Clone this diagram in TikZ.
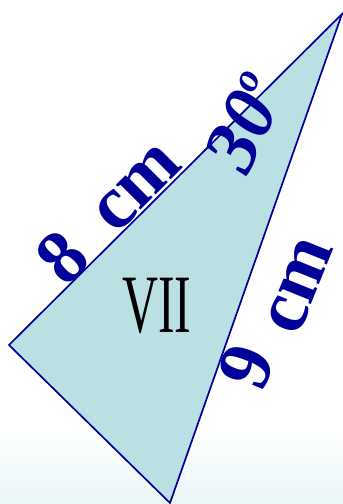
\documentclass[tikz,border=0pt]{standalone}
\usepackage{fontspec}
\setmainfont{Liberation Serif}
\definecolor{edgeblue}{HTML}{000099}
\definecolor{trifill}{HTML}{BBE0E3}
\definecolor{bgcyan}{HTML}{EAF6F7}
\tikzset{
  lbl/.style={text=edgeblue, font=\fontsize{76}{76}\selectfont\bfseries, inner sep=0pt},
  tri/.style={draw=edgeblue, fill=trifill, line width=1.7pt, line join=miter},
}
\begin{document}
\begin{tikzpicture}[x=1pt,y=-1pt]
\useasboundingbox (0,0) rectangle (343,504);
\fill[white] (0,0) rectangle (343,504);
\shade[top color=white, bottom color=bgcyan] (0,430) rectangle (343,504);
\coordinate (A) at (342,14);
\coordinate (B) at (9,345);
\coordinate (C) at (170,503);
\draw[tri] (A) -- (B) -- (C) -- cycle;
\node[lbl, rotate=45] (eight) at (62,257) {8};
\node[lbl, rotate=45] (cmone) at (138,189) {cm};
\node[lbl, rotate=65] (angle) at (245,122) {\itshape 30\raisebox{29pt}{\fontsize{40}{40}\selectfont o}};
\node[lbl, rotate=68] (nine) at (247,367) {9};
\node[lbl, rotate=68] (cmtwo) at (300,286) {cm};
\node[inner sep=0pt, font=\fontsize{83}{83}\selectfont] (seven) at (157,306) {\scalebox{0.6}[1]{VII}};
\end{tikzpicture}
\end{document}
